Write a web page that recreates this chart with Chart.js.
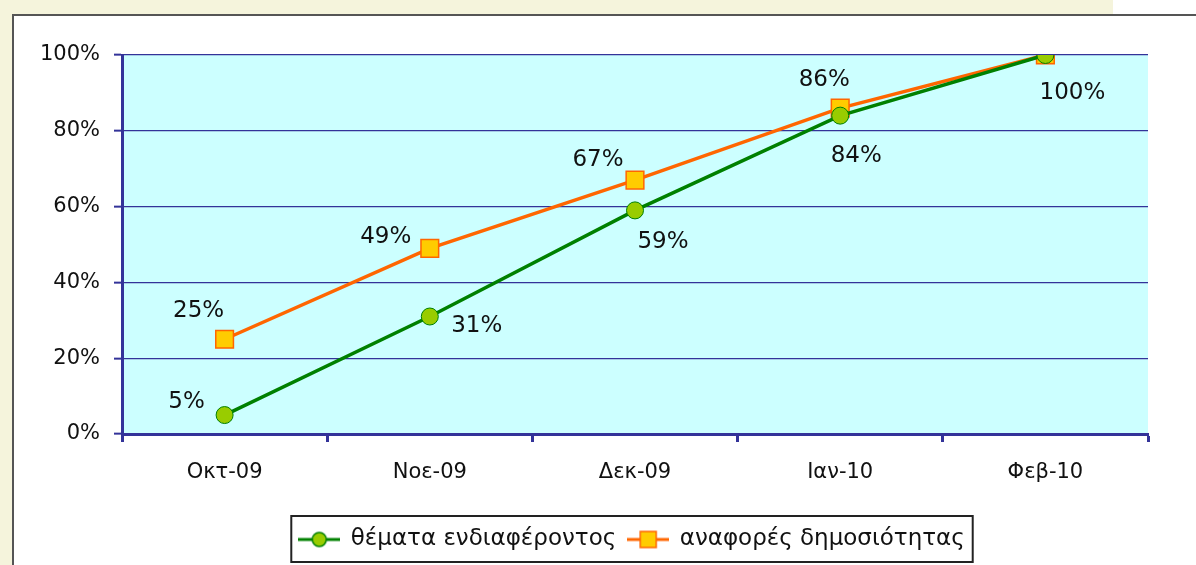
<!DOCTYPE html>
<html>
<head>
<meta charset="utf-8">
<script src="https://cdn.jsdelivr.net/npm/chart.js@4.4.1/dist/chart.umd.min.js"></script>
<style>
  html, body { margin: 0; padding: 0; background: #fff; }
  #wrap { width: 1196px; height: 565px; position: relative; }
</style>
</head>
<body>
<div id="wrap"><canvas id="chart" width="1196" height="565"></canvas></div>
<script>
// chart data
const months = ['Οκτ-09', 'Νοε-09', 'Δεκ-09', 'Ιαν-10', 'Φεβ-10'];
const topics = [5, 31, 59, 84, 100];       // θέματα ενδιαφέροντος
const mentions = [25, 49, 67, 86, 100];    // αναφορές δημοσιότητας
const seriesNames = ['θέματα ενδιαφέροντος', 'αναφορές δημοσιότητας'];

// where each value label sits relative to its point (dx, dy)
const topicsLabelPos = [[-38, -13], [47, 10], [28, 32], [16, 40], [27, 38]];
const mentionsLabelPos = [[-26, -28], [-44, -11], [-37, -20], [-16, -28], null];

const FONT = 'DejaVu Sans';
const NAVY = '#333399';

// legend symbols: line with marker in the middle
function legendSymbol(color, fill, shape) {
    const c = document.createElement('canvas');
    c.width = 42; c.height = 20;
    const g = c.getContext('2d');
    g.strokeStyle = color; g.lineWidth = 3;
    g.beginPath(); g.moveTo(0, 10); g.lineTo(42, 10); g.stroke();
    g.fillStyle = fill; g.lineWidth = 1.5;
    if (shape === 'circle') {
        g.beginPath(); g.arc(21, 10, 7, 0, Math.PI * 2); g.fill(); g.stroke();
    } else {
        g.fillRect(13, 2, 16, 16); g.strokeRect(13, 2, 16, 16);
    }
    return c;
}

const framePlugin = {
    id: 'frame',
    afterLayout(chart) {
        // legend sits centred under the plot area, not the whole canvas
        const lg = chart.legend;
        const a = chart.chartArea;
        const shift = (a.left + a.right) / 2 - (lg.left + lg.right) / 2 - 3;
        lg.left += shift;
        lg.right += shift;
    },
    beforeDraw(chart) {
        const ctx = chart.ctx;
        ctx.save();
        ctx.fillStyle = '#f5f4dc';
        ctx.fillRect(0, 0, 1113, 14);
        ctx.fillRect(0, 0, 12, 565);
        ctx.strokeStyle = '#555';
        ctx.lineWidth = 2;
        ctx.beginPath();
        ctx.moveTo(13, 565); ctx.lineTo(13, 15); ctx.lineTo(1196, 15);
        ctx.stroke();
        const a = chart.chartArea;
        ctx.fillStyle = '#ccffff';
        ctx.fillRect(a.left, a.top, a.right - a.left, a.bottom - a.top);
        ctx.restore();
    },
    afterDraw(chart) {
        const ctx = chart.ctx;
        const boxes = chart.legend.legendHitBoxes;
        if (!boxes || !boxes.length) return;
        let l = Infinity, t = Infinity, r = -Infinity, b = -Infinity;
        boxes.forEach(h => {
            l = Math.min(l, h.left); t = Math.min(t, h.top);
            r = Math.max(r, h.left + h.width); b = Math.max(b, h.top + h.height);
        });
        ctx.save();
        ctx.strokeStyle = '#222';
        ctx.lineWidth = 2;
        ctx.strokeRect(l - 8, t - 12, r - l + 16, b - t + 23);
        ctx.restore();
    }
};

const valueLabels = {
    id: 'valueLabels',
    afterDatasetsDraw(chart) {
        const ctx = chart.ctx;
        const positions = [topicsLabelPos, mentionsLabelPos];
        ctx.save();
        ctx.font = '23px "' + FONT + '"';
        ctx.fillStyle = '#111';
        ctx.textAlign = 'center';
        ctx.textBaseline = 'middle';
        chart.data.datasets.forEach((ds, i) => {
            chart.getDatasetMeta(i).data.forEach((pt, j) => {
                const off = positions[i][j];
                if (!off) return;
                ctx.fillText(ds.data[j] + '%', pt.x + off[0], pt.y + off[1]);
            });
        });
        ctx.restore();
    }
};

new Chart(document.getElementById('chart'), {
    type: 'line',
    data: {
        labels: months,
        datasets: [{
            label: seriesNames[0],
            data: topics,
            borderColor: '#008000',
            borderWidth: 3.5,
            pointStyle: 'circle',
            pointRadius: 8.5,
            pointBackgroundColor: '#99cc00',
            pointBorderColor: '#008000',
            pointBorderWidth: 1,
            tension: 0
        }, {
            label: seriesNames[1],
            data: mentions,
            borderColor: '#ff6600',
            borderWidth: 3.5,
            pointStyle: 'rect',
            pointRadius: 12.5,
            pointBackgroundColor: '#ffcc00',
            pointBorderColor: '#ff6600',
            pointBorderWidth: 1.5,
            tension: 0
        }]
    },
    options: {
        responsive: false,
        animation: false,
        layout: { padding: { left: 20, right: 48, top: 55, bottom: 4 } },
        plugins: {
            tooltip: { enabled: false },
            legend: {
                position: 'bottom',
                labels: {
                    font: { family: FONT, size: 23 },
                    color: '#111',
                    usePointStyle: true,
                    pointStyleWidth: 40,
                    boxHeight: 20,
                    padding: 12,
                    generateLabels(chart) {
                        return chart.data.datasets.map((ds, i) => ({
                            text: ds.label,
                            datasetIndex: i,
                            pointStyle: i === 0
                                ? legendSymbol('#008000', '#99cc00', 'circle')
                                : legendSymbol('#ff6600', '#ffcc00', 'rect'),
                            fontColor: '#111',
                            lineWidth: 0
                        }));
                    }
                }
            }
        },
        scales: {
            x: {
                offset: true,
                afterFit(s) { s.height = 82; },
                grid: { offset: true, drawOnChartArea: false, drawTicks: true, tickLength: 8, tickWidth: 3, tickColor: NAVY },
                border: { color: NAVY, width: 3 },
                ticks: { font: { family: FONT, size: 21 }, color: '#111', padding: 18 }
            },
            y: {
                min: 0,
                max: 100,
                afterFit(s) { s.width = 102; },
                grid: { color: NAVY, lineWidth: 1.3, tickLength: 8, tickWidth: 2, tickColor: NAVY },
                border: { color: NAVY, width: 3 },
                ticks: {
                    stepSize: 20,
                    font: { family: FONT, size: 21 },
                    color: '#111',
                    padding: 14,
                    callback: v => v + '%'
                }
            }
        }
    },
    plugins: [framePlugin, valueLabels]
});
</script>
</body>
</html>
